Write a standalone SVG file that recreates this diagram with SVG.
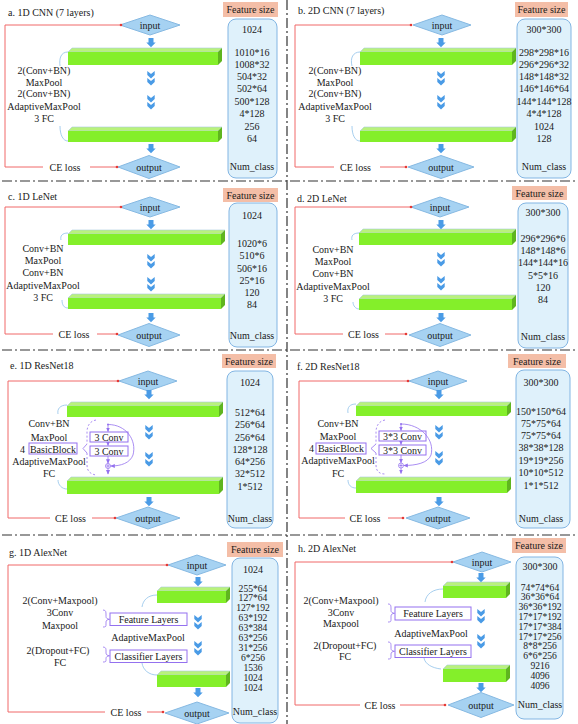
<svg xmlns="http://www.w3.org/2000/svg" xmlns:xlink="http://www.w3.org/1999/xlink" width="578" height="724" viewBox="0 0 578 724">
<style>
.t{font-family:"Liberation Serif","Times New Roman",serif;font-size:10px;fill:#1a1a1a}
.s{font-size:9.6px}
.m{text-anchor:middle}
.e{text-anchor:end}
.dia{fill:#a6d2f2;stroke:#86b9e2;stroke-width:1}
.fs{fill:#f4bea7}
.lst{fill:#dff1fb;stroke:#82b5e3;stroke-width:1}
.red{fill:none;stroke:#f06868;stroke-width:1}
.arc{fill:none;stroke:#8fc2ea;stroke-width:0.8}
.gt{fill:#b9f27c;stroke:#a9c9de;stroke-width:0.6}
.gf{fill:#84ef2a}
.gs{fill:#5fb51f}
.sep{fill:none;stroke:#333;stroke-width:1.2;stroke-dasharray:10 3 2 3}
.pb{fill:#fff;stroke:#9471ef;stroke-width:1}
.pl{fill:none;stroke:#9471ef;stroke-width:0.8}
.pd{fill:none;stroke:#9471ef;stroke-width:0.8;stroke-dasharray:2 2}
.blu{fill:#4a9be6}
</style>
<defs>
<path id="da" d="M-2.5,0h5v4.5h2.2l-4.7,4.7l-4.7,-4.7h2.2z"/>
<g id="ch"><path d="M-3.7,0L0,3L3.7,0V4L0,7.5L-3.7,4z"/><path d="M-3.7,7L0,10L3.7,7V11L0,14.5L-3.7,11z"/></g>
<marker id="rd" markerWidth="4" markerHeight="4" refX="2" refY="2" markerUnits="userSpaceOnUse"><circle cx="2" cy="2" r="1.3" fill="#e53935"/></marker>
<marker id="pa" markerWidth="5" markerHeight="5" refX="4" refY="2.5" orient="auto" markerUnits="userSpaceOnUse"><path d="M0,0.5L4.5,2.5L0,4.5z" fill="#9471ef"/></marker>
</defs>
<rect width="578" height="724" fill="#fff"/>
<g id="separators">
<path class="sep" d="M287,0V724"/>
<path class="sep" d="M2,181H576"/>
<path class="sep" d="M2,350H576"/>
<path class="sep" d="M2,535H576"/>
</g>

<!-- Panel a -->
<g id="panel-a">
<text class="t" x="8" y="16">a. 1D CNN (7 layers)</text>
<g id="a-fs"><rect class="fs" x="223" y="2" width="55" height="15"/><text class="t m" x="250.5" y="13">Feature size</text></g>
<g id="a-sizes"><rect class="lst" x="228" y="19" width="49" height="159" rx="8"/>
<text class="t m" x="252" y="32.5">1024</text>
<text class="t m" x="252" y="55.5">1010*16</text>
<text class="t m" x="252" y="67.5">1008*32</text>
<text class="t m" x="252" y="79.5">504*32</text>
<text class="t m" x="252" y="91.5">502*64</text>
<text class="t m" x="252" y="104.5">500*128</text>
<text class="t m" x="252" y="116.5">4*128</text>
<text class="t m" x="252" y="129.5">256</text>
<text class="t m" x="252" y="141.5">64</text>
<text class="t m" x="252" y="169.5">Num_class</text></g>
<g id="a-input"><polygon class="dia" points="120,25 150,15 180,25 150,35"/><text class="t m" x="150" y="28.5">input</text></g>
<g id="a-bar1"><polygon class="gt" points="68,52 72,48 222,48 218,52"/><rect class="gf" x="68" y="52" width="150" height="13"/><polygon class="gs" points="218,52 222,48 222,61 218,65"/></g>
<g id="a-bar2"><polygon class="gt" points="68,131 72,127 222,127 218,131"/><rect class="gf" x="68" y="131" width="150" height="11"/><polygon class="gs" points="218,131 222,127 222,138 218,142"/></g>
<g id="a-output"><polygon class="dia" points="118,167 149,155.5 180,167 149,178.5"/><text class="t m" x="149" y="170.5">output</text></g>
<g id="a-layers">
<text class="t m" x="44" y="73.5">2(Conv+BN)</text>
<text class="t m" x="44" y="85.5">MaxPool</text>
<text class="t m" x="44" y="97">2(Conv+BN)</text>
<text class="t m" x="44" y="109.5">AdaptiveMaxPool</text>
<text class="t m" x="44" y="121.5">3 FC</text></g>
<g id="a-ce"><text class="t m" x="65" y="170.5">CE loss</text></g>
<g id="a-connectors">
<use href="#da" class="blu" x="151" y="38"/><use href="#da" class="blu" x="151" y="144"/>
<use href="#ch" class="blu" x="151" y="71"/><use href="#ch" class="blu" x="151" y="95"/>
<path class="red" d="M43,167H5V25H121" marker-end="url(#rd)"/>
<path class="red" d="M90,167H117" marker-end="url(#rd)"/>
<path class="arc" d="M68,52C61,52 59,58 60,66"/>
<path class="arc" d="M60,126C60,135 63,141 68,141"/>
</g>
</g>

<!-- Panel b -->
<g id="panel-b">
<text class="t" x="298" y="14">b. 2D CNN (7 layers)</text>
<g id="b-fs"><rect class="fs" x="515" y="2" width="53" height="15"/><text class="t m" x="541.5" y="13">Feature size</text></g>
<g id="b-sizes"><rect class="lst" x="517" y="19" width="54" height="159" rx="8"/>
<text class="t m" x="544" y="33">300*300</text>
<text class="t m" x="544" y="55.5">298*298*16</text>
<text class="t m" x="544" y="67.5">296*296*32</text>
<text class="t m" x="544" y="79.5">148*148*32</text>
<text class="t m" x="544" y="92">146*146*64</text>
<text class="t m" x="544" y="104.5">144*144*128</text>
<text class="t m" x="544" y="117">4*4*128</text>
<text class="t m" x="544" y="129.5">1024</text>
<text class="t m" x="544" y="141.5">128</text>
<text class="t m" x="544" y="169.5">Num_class</text></g>
<g id="b-input"><polygon class="dia" points="413,25 442,15 471,25 442,35"/><text class="t m" x="442" y="28.5">input</text></g>
<g id="b-bar1"><polygon class="gt" points="360,52 364,48 516,48 512,52"/><rect class="gf" x="360" y="52" width="152" height="13"/><polygon class="gs" points="512,52 516,48 516,61 512,65"/></g>
<g id="b-bar2"><polygon class="gt" points="360,131 364,127 516,127 512,131"/><rect class="gf" x="360" y="131" width="152" height="11"/><polygon class="gs" points="512,131 516,127 516,138 512,142"/></g>
<g id="b-output"><polygon class="dia" points="408,167 441,155.5 474,167 441,178.5"/><text class="t m" x="441" y="170.5">output</text></g>
<g id="b-layers">
<text class="t m" x="335" y="73.5">2(Conv+BN)</text>
<text class="t m" x="335" y="85.5">MaxPool</text>
<text class="t m" x="335" y="97">2(Conv+BN)</text>
<text class="t m" x="335" y="109.5">AdaptiveMaxPool</text>
<text class="t m" x="335" y="121.5">3 FC</text></g>
<g id="b-ce"><text class="t m" x="355.5" y="170.5">CE loss</text></g>
<g id="b-connectors">
<use href="#da" class="blu" x="441" y="38"/><use href="#da" class="blu" x="441" y="144"/>
<use href="#ch" class="blu" x="441" y="71"/><use href="#ch" class="blu" x="441" y="95"/>
<path class="red" d="M334,167H295V25H411" marker-end="url(#rd)"/>
<path class="red" d="M380,167H406" marker-end="url(#rd)"/>
<path class="arc" d="M360,52C353,52 350,58 352,66"/>
<path class="arc" d="M352,126C352,135 355,141 360,141"/>
</g>
</g>

<!-- Panel c -->
<g id="panel-c">
<text class="t" x="8" y="199.5">c. 1D LeNet</text>
<g id="c-fs"><rect class="fs" x="223" y="188" width="55" height="14"/><text class="t m" x="250.5" y="198.5">Feature size</text></g>
<g id="c-sizes"><rect class="lst" x="229" y="203" width="48" height="144" rx="8"/>
<text class="t m" x="252" y="218.5">1024</text>
<text class="t m" x="252" y="246.5">1020*6</text>
<text class="t m" x="252" y="258.5">510*6</text>
<text class="t m" x="252" y="271.5">506*16</text>
<text class="t m" x="252" y="283.5">25*16</text>
<text class="t m" x="252" y="295.5">120</text>
<text class="t m" x="252" y="307.5">84</text>
<text class="t m" x="252" y="338.5">Num_class</text></g>
<g id="c-input"><polygon class="dia" points="120,207 150,197 180,207 150,217"/><text class="t m" x="150" y="210.5">input</text></g>
<g id="c-bar1"><polygon class="gt" points="68,234 72,230 225,230 221,234"/><rect class="gf" x="68" y="234" width="153" height="11"/><polygon class="gs" points="221,234 225,230 225,241 221,245"/></g>
<g id="c-bar2"><polygon class="gt" points="68,298 72,294 225,294 221,298"/><rect class="gf" x="68" y="298" width="153" height="11"/><polygon class="gs" points="221,298 225,294 225,305 221,309"/></g>
<g id="c-output"><polygon class="dia" points="118,335 149,323.5 180,335 149,346.5"/><text class="t m" x="149" y="338.5">output</text></g>
<g id="c-layers">
<text class="t m" x="43" y="251.5">Conv+BN</text>
<text class="t m" x="43" y="263.5">MaxPool</text>
<text class="t m" x="43" y="275.5">Conv+BN</text>
<text class="t m" x="43" y="288.5">AdaptiveMaxPool</text>
<text class="t m" x="43" y="300.5">3 FC</text></g>
<g id="c-ce"><text class="t m" x="74" y="338">CE loss</text></g>
<g id="c-connectors">
<use href="#da" class="blu" x="151" y="220"/><use href="#da" class="blu" x="151" y="313"/>
<use href="#ch" class="blu" x="151" y="254"/><use href="#ch" class="blu" x="151" y="277"/>
<path class="red" d="M53,334H5V207H121" marker-end="url(#rd)"/>
<path class="red" d="M97,334H117" marker-end="url(#rd)"/>
<path class="arc" d="M68,233C62,233 60,236 61,240"/>
<path class="arc" d="M62,300C62,305 64,308 68,308"/>
</g>
</g>

<!-- Panel d -->
<g id="panel-d">
<text class="t" x="297" y="201.5">d. 2D LeNet</text>
<g id="d-fs"><rect class="fs" x="512" y="186" width="55" height="14"/><text class="t m" x="539.5" y="196.5">Feature size</text></g>
<g id="d-sizes"><rect class="lst" x="518" y="203" width="50" height="145" rx="8"/>
<text class="t m" x="543" y="215.5">300*300</text>
<text class="t m" x="543" y="241.5">296*296*6</text>
<text class="t m" x="543" y="253.5">148*148*6</text>
<text class="t m" x="543" y="265.5">144*144*16</text>
<text class="t m" x="543" y="278.5">5*5*16</text>
<text class="t m" x="543" y="290.5">120</text>
<text class="t m" x="543" y="302.5">84</text>
<text class="t m" x="543" y="339.5">Num_class</text></g>
<g id="d-input"><polygon class="dia" points="411,207 440,197 469,207 440,217"/><text class="t m" x="440" y="210.5">input</text></g>
<g id="d-bar1"><polygon class="gt" points="359,233 363,229 516,229 512,233"/><rect class="gf" x="359" y="233" width="153" height="12"/><polygon class="gs" points="512,233 516,229 516,241 512,245"/></g>
<g id="d-bar2"><polygon class="gt" points="359,299 363,295 516,295 512,299"/><rect class="gf" x="359" y="299" width="153" height="11"/><polygon class="gs" points="512,299 516,295 516,306 512,310"/></g>
<g id="d-output"><polygon class="dia" points="409,335 440,323.5 471,335 440,346.5"/><text class="t m" x="440" y="338.5">output</text></g>
<g id="d-layers">
<text class="t m" x="333" y="252.5">Conv+BN</text>
<text class="t m" x="333" y="264.5">MaxPool</text>
<text class="t m" x="333" y="276.5">Conv+BN</text>
<text class="t m" x="333" y="289.5">AdaptiveMaxPool</text>
<text class="t m" x="333" y="301.5">3 FC</text></g>
<g id="d-ce"><text class="t m" x="363.5" y="338">CE loss</text></g>
<g id="d-connectors">
<use href="#da" class="blu" x="441" y="220"/><use href="#da" class="blu" x="441" y="313"/>
<use href="#ch" class="blu" x="441" y="252"/><use href="#ch" class="blu" x="441" y="276"/>
<path class="red" d="M343,334H295V207H411" marker-end="url(#rd)"/>
<path class="red" d="M385,334H406" marker-end="url(#rd)"/>
<path class="arc" d="M359,233C353,233 351,236 352,240"/>
<path class="arc" d="M353,302C353,306 356,309 359,309"/>
</g>
</g>

<!-- Panel e -->
<g id="panel-e">
<text class="t" x="10" y="368.5">e. 1D ResNet18</text>
<g id="e-fs"><rect class="fs" x="222" y="354" width="54" height="14"/><text class="t m" x="249" y="364.5">Feature size</text></g>
<g id="e-sizes"><rect class="lst" x="227" y="371" width="46" height="157" rx="8"/>
<text class="t m" x="250" y="385.5">1024</text>
<text class="t m" x="250" y="415.5">512*64</text>
<text class="t m" x="250" y="427.5">256*64</text>
<text class="t m" x="250" y="440.5">256*64</text>
<text class="t m" x="250" y="452.5">128*128</text>
<text class="t m" x="250" y="464.5">64*256</text>
<text class="t m" x="250" y="476.5">32*512</text>
<text class="t m" x="250" y="489.5">1*512</text>
<text class="t m" x="250" y="521.5">Num_class</text></g>
<g id="e-input"><polygon class="dia" points="119,381 148,371 177,381 148,391"/><text class="t m" x="148" y="384.5">input</text></g>
<g id="e-bar1"><polygon class="gt" points="67,406 71,402 223,402 219,406"/><rect class="gf" x="67" y="406" width="152" height="11"/><polygon class="gs" points="219,406 223,402 223,413 219,417"/></g>
<g id="e-bar2"><polygon class="gt" points="67,481 71,477 223,477 219,481"/><rect class="gf" x="67" y="481" width="152" height="13"/><polygon class="gs" points="219,481 223,477 223,490 219,494"/></g>
<g id="e-output"><polygon class="dia" points="116,518 148,507 180,518 148,529"/><text class="t m" x="148" y="521.5">output</text></g>
<g id="e-layers">
<text class="t m" x="49" y="426.5">Conv+BN</text>
<text class="t m" x="49" y="440.5">MaxPool</text>
<text class="t" x="20" y="452.5">4</text>
<text class="t m" x="49" y="464.5">AdaptiveMaxPool</text>
<text class="t m" x="49" y="476.5">FC</text></g>
<g id="e-basicblock"><rect class="pb" x="29" y="443" width="48" height="11"/><text class="t m" x="53" y="452.5">BasicBlock</text></g>
<g id="e-conv1"><rect class="pb" x="90" y="432" width="38" height="10"/><text class="t m" x="109" y="440.5">3 Conv</text></g>
<g id="e-conv2"><rect class="pb" x="90" y="446" width="38" height="10"/><text class="t m" x="109" y="454.5">3 Conv</text></g>
<g id="e-add"><circle cx="108" cy="466" r="2.5" fill="#fff" stroke="#9471ef" stroke-width="0.8"/><path class="pl" d="M106.3,466H109.7M108,464.3V467.7"/></g>
<g id="e-ce"><text class="t m" x="70.5" y="521.5">CE loss</text></g>
<g id="e-connectors">
<use href="#da" class="blu" x="149" y="390"/><use href="#da" class="blu" x="149" y="497"/>
<use href="#ch" class="blu" x="149" y="425"/><use href="#ch" class="blu" x="149" y="452"/>
<path class="red" d="M50,518H8V381H118" marker-end="url(#rd)"/>
<path class="red" d="M92,518H115" marker-end="url(#rd)"/>
<path class="arc" d="M67,405C60,405 57,409 58,414"/>
<path class="arc" d="M58,480C58,485 62,489 67,489"/>
<path class="pd" d="M96,420C90,421 87,426 87,432V444M87,453V465C87,471 90,474 96,475"/>
<path class="pl" d="M87,444L83,448.5L87,453"/>
<circle cx="108" cy="424.5" r="1" fill="#9471ef"/>
<path class="pl" d="M108,424.5V431.5" marker-end="url(#pa)"/>
<path class="pl" d="M108,442V445.5" marker-end="url(#pa)"/>
<path class="pl" d="M108,456V463.2" marker-end="url(#pa)"/>
<path class="pl" d="M108,468.5V474" marker-end="url(#pa)"/>
<path class="pl" d="M108,424.5C126,424.5 137,440 133,455C130,463 121,466 110.8,466" marker-end="url(#pa)"/>
</g>
</g>

<!-- Panel f -->
<g id="panel-f">
<text class="t" x="297" y="369.5">f. 2D ResNet18</text>
<g id="f-fs"><rect class="fs" x="508" y="354" width="58" height="14"/><text class="t m" x="537" y="364.5">Feature size</text></g>
<g id="f-sizes"><rect class="lst" x="516" y="370" width="54" height="158" rx="8"/>
<text class="t m" x="541" y="385.5">300*300</text>
<text class="t m" x="541" y="414.5">150*150*64</text>
<text class="t m" x="541" y="426.5">75*75*64</text>
<text class="t m" x="541" y="438.5">75*75*64</text>
<text class="t m" x="541" y="450.5">38*38*128</text>
<text class="t m" x="541" y="463.5">19*19*256</text>
<text class="t m" x="541" y="475.5">10*10*512</text>
<text class="t m" x="541" y="488.5">1*1*512</text>
<text class="t m" x="541" y="521.5">Num_class</text></g>
<g id="f-input"><polygon class="dia" points="409,381 438,371 467,381 438,391"/><text class="t m" x="438" y="384.5">input</text></g>
<g id="f-bar1"><polygon class="gt" points="356,406 360,402 511,402 507,406"/><rect class="gf" x="356" y="406" width="151" height="10"/><polygon class="gs" points="507,406 511,402 511,412 507,416"/></g>
<g id="f-bar2"><polygon class="gt" points="356,481 360,477 511,477 507,481"/><rect class="gf" x="356" y="481" width="151" height="12"/><polygon class="gs" points="507,481 511,477 511,489 507,493"/></g>
<g id="f-output"><polygon class="dia" points="406,518 438,507 470,518 438,529"/><text class="t m" x="438" y="521.5">output</text></g>
<g id="f-layers">
<text class="t m" x="338" y="426.5">Conv+BN</text>
<text class="t m" x="338" y="439.5">MaxPool</text>
<text class="t" x="309" y="451.5">4</text>
<text class="t m" x="338" y="463.5">AdaptiveMaxPool</text>
<text class="t m" x="338" y="476.5">FC</text></g>
<g id="f-basicblock"><rect class="pb" x="316" y="443" width="50" height="11"/><text class="t m" x="341" y="451.5">BasicBlock</text></g>
<g id="f-conv1"><rect class="pb" x="379" y="431" width="47" height="10"/><text class="t m" x="402.5" y="439.5">3*3 Conv</text></g>
<g id="f-conv2"><rect class="pb" x="379" y="445" width="47" height="10"/><text class="t m" x="402.5" y="453.5">3*3 Conv</text></g>
<g id="f-add"><circle cx="401" cy="465.5" r="2.5" fill="#fff" stroke="#9471ef" stroke-width="0.8"/><path class="pl" d="M399.3,465.5H402.7M401,463.8V467.2"/></g>
<g id="f-ce"><text class="t m" x="365" y="521.5">CE loss</text></g>
<g id="f-connectors">
<use href="#da" class="blu" x="439" y="390"/><use href="#da" class="blu" x="439" y="497"/>
<use href="#ch" class="blu" x="439" y="425"/><use href="#ch" class="blu" x="439" y="451"/>
<path class="red" d="M345,518H299V381H408" marker-end="url(#rd)"/>
<path class="red" d="M388,518H403" marker-end="url(#rd)"/>
<path class="arc" d="M356,404C350,404 347,407 348,413"/>
<path class="arc" d="M348,480C348,485 351,488 356,488"/>
<path class="pd" d="M385,420C379,421 376,426 376,432V444M376,453V465C376,471 379,474 385,474"/>
<path class="pl" d="M376,444L371,448.5L376,453"/>
<circle cx="401" cy="424" r="1" fill="#9471ef"/>
<path class="pl" d="M401,424V430.5" marker-end="url(#pa)"/>
<path class="pl" d="M401,441V444.5" marker-end="url(#pa)"/>
<path class="pl" d="M401,455V462.7" marker-end="url(#pa)"/>
<path class="pl" d="M401,468V473.5" marker-end="url(#pa)"/>
<path class="pl" d="M401,424C421,424 435,440 431,455C428,463 416,465.5 403.8,465.5" marker-end="url(#pa)"/>
</g>
</g>

<!-- Panel g -->
<g id="panel-g">
<text class="t" x="9" y="555.5">g. 1D AlexNet</text>
<g id="g-fs"><rect class="fs" x="227" y="542" width="56" height="15"/><text class="t m" x="255" y="553">Feature size</text></g>
<g id="g-sizes"><rect class="lst" x="232" y="558" width="46" height="165" rx="8"/>
<text class="t m" x="253" y="572.5">1024</text>
<text class="t s m" x="253" y="591.5">255*64</text>
<text class="t s m" x="253" y="601.4">127*64</text>
<text class="t s m" x="253" y="611.3">127*192</text>
<text class="t s m" x="253" y="621.2">63*192</text>
<text class="t s m" x="253" y="631.1">63*384</text>
<text class="t s m" x="253" y="641">63*256</text>
<text class="t s m" x="253" y="650.9">31*256</text>
<text class="t s m" x="253" y="660.8">6*256</text>
<text class="t s m" x="253" y="670.7">1536</text>
<text class="t s m" x="253" y="680.6">1024</text>
<text class="t s m" x="253" y="690.5">1024</text>
<text class="t m" x="255" y="714.5">Num_class</text></g>
<g id="g-input"><polygon class="dia" points="168,565 197,555 226,565 197,575"/><text class="t m" x="197" y="568.5">input</text></g>
<g id="g-bar1"><polygon class="gt" points="157,591 161,587 230,587 226,591"/><rect class="gf" x="157" y="591" width="69" height="12"/><polygon class="gs" points="226,591 230,587 230,599 226,603"/></g>
<g id="g-bar2"><polygon class="gt" points="157,675 161,671 230,671 226,675"/><rect class="gf" x="157" y="675" width="69" height="12"/><polygon class="gs" points="226,675 230,671 230,683 226,687"/></g>
<g id="g-output"><polygon class="dia" points="165,713 197,702 229,713 197,724"/><text class="t m" x="197" y="716.5">output</text></g>
<g id="g-layers">
<text class="t m" x="60" y="603.5">2(Conv+Maxpool)</text>
<text class="t m" x="60" y="615.5">3Conv</text>
<text class="t m" x="60" y="628.5">Maxpool</text>
<text class="t m" x="148" y="640.5">AdaptiveMaxPool</text>
<text class="t m" x="58" y="653.5">2(Dropout+FC)</text>
<text class="t m" x="60" y="665.5">FC</text></g>
<g id="g-feature"><rect class="pb" x="110" y="613" width="77" height="12.5"/><text class="t m" x="148.5" y="622.5">Feature Layers</text></g>
<g id="g-classifier"><rect class="pb" x="110" y="650" width="77" height="12.5"/><text class="t m" x="148.5" y="659.5">Classifier Layers</text></g>
<g id="g-ce"><text class="t m" x="126" y="715.5">CE loss</text></g>
<g id="g-connectors">
<use href="#da" class="blu" x="198" y="577"/><use href="#da" class="blu" x="198" y="688"/>
<use href="#ch" class="blu" x="198" y="615"/><use href="#ch" class="blu" x="198" y="641"/>
<path class="red" d="M105,712H8V565H167" marker-end="url(#rd)"/>
<path class="red" d="M147,712H163" marker-end="url(#rd)"/>
<path class="arc" d="M157,595C148,595 143,600 142,607"/>
<path class="arc" d="M142,663C143,670 149,675 157,675"/>
<path class="pl" d="M103,610C106,610 106,612 106,615V616.5C106,618 107,619 109.5,619.3C107,619.6 106,620.5 106,622V624C106,626.5 106,627 103,627"/>
<path class="pl" d="M103,647C106,647 106,649 106,651V653C106,654.5 107,655.5 109.5,655.8C107,656.1 106,657 106,658.5V659.5C106,661.5 106,662 103,662"/>
</g>
</g>

<!-- Panel h -->
<g id="panel-h">
<text class="t" x="298" y="551.5">h. 2D AlexNet</text>
<g id="h-fs"><rect class="fs" x="512" y="538" width="54" height="15"/><text class="t m" x="539" y="549">Feature size</text></g>
<g id="h-sizes"><rect class="lst" x="516" y="557" width="47" height="162" rx="8"/>
<text class="t m" x="540" y="569.5">300*300</text>
<text class="t s m" x="540" y="590.5">74*74*64</text>
<text class="t s m" x="540" y="600.3">36*36*64</text>
<text class="t s m" x="540" y="610.1">36*36*192</text>
<text class="t s m" x="540" y="619.9">17*17*192</text>
<text class="t s m" x="540" y="629.7">17*17*384</text>
<text class="t s m" x="540" y="639.5">17*17*256</text>
<text class="t s m" x="540" y="649.3">8*8*256</text>
<text class="t s m" x="540" y="659.1">6*6*256</text>
<text class="t s m" x="540" y="668.9">9216</text>
<text class="t s m" x="540" y="678.7">4096</text>
<text class="t s m" x="540" y="688.5">4096</text>
<text class="t m" x="540" y="707.5">Num_class</text></g>
<g id="h-input"><polygon class="dia" points="453,562 482,552 511,562 482,572"/><text class="t m" x="482" y="565.5">input</text></g>
<g id="h-bar1"><polygon class="gt" points="443,586 447,582 510,582 506,586"/><rect class="gf" x="443" y="586" width="63" height="12"/><polygon class="gs" points="506,586 510,582 510,594 506,598"/></g>
<g id="h-bar2"><polygon class="gt" points="443,669 447,665 510,665 506,669"/><rect class="gf" x="443" y="669" width="63" height="13"/><polygon class="gs" points="506,669 510,665 510,678 506,682"/></g>
<g id="h-output"><polygon class="dia" points="448,705 481,692.5 514,705 481,717.5"/><text class="t m" x="481" y="708.5">output</text></g>
<g id="h-layers">
<text class="t m" x="341" y="603.5">2(Conv+Maxpool)</text>
<text class="t m" x="341" y="615.5">3Conv</text>
<text class="t m" x="341" y="626.5">Maxpool</text>
<text class="t m" x="431" y="636.5">AdaptiveMaxPool</text>
<text class="t m" x="345" y="648.5">2(Dropout+FC)</text>
<text class="t m" x="345" y="659.5">FC</text></g>
<g id="h-feature"><rect class="pb" x="395" y="607" width="76" height="13"/><text class="t m" x="433" y="617">Feature Layers</text></g>
<g id="h-classifier"><rect class="pb" x="395" y="645" width="76" height="12.5"/><text class="t m" x="433" y="654.5">Classifier Layers</text></g>
<g id="h-ce"><text class="t m" x="380" y="708.5">CE loss</text></g>
<g id="h-connectors">
<use href="#da" class="blu" x="481" y="573"/><use href="#da" class="blu" x="481" y="683"/>
<use href="#ch" class="blu" x="481" y="609"/><use href="#ch" class="blu" x="481" y="634"/>
<path class="red" d="M360,705H295V562H452" marker-end="url(#rd)"/>
<path class="red" d="M400,705H445" marker-end="url(#rd)"/>
<path class="arc" d="M443,589C433,589 426,594 425,602"/>
<path class="arc" d="M424,658C425,664 432,668 441,669"/>
<path class="pl" d="M388,604C391,604 391,606 391,609V610.5C391,612 392,613 394.5,613.3C392,613.6 391,614.5 391,616V619C391,621.5 391,622 388,622"/>
<path class="pl" d="M388,642C391,642 391,644 391,646V648.5C391,650 392,651 394.5,651.3C392,651.6 391,652.5 391,654V656C391,658.5 391,659 388,659"/>
</g>
</g>
</svg>
